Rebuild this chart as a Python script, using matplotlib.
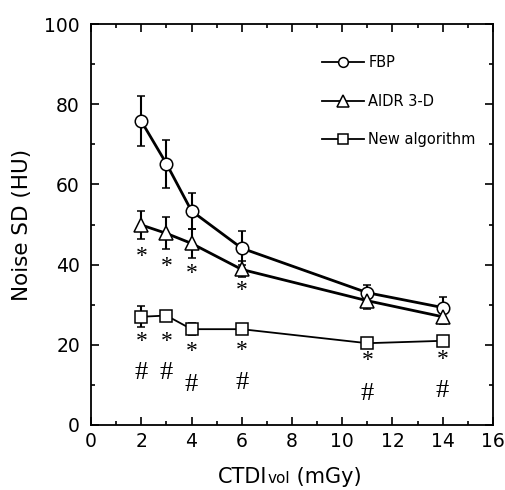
import numpy as np
import matplotlib.pyplot as plt
from matplotlib.ticker import MultipleLocator
from matplotlib.lines import Line2D

plt.rcParams['font.family'] = ['DejaVu Sans']

dose = [2, 3, 4, 6, 11, 14]

fbp = [75.8, 65.2, 53.4, 44.1, 33.0, 29.3]
fbp_err = [6.3, 6.0, 4.4, 4.3, 2.0, 2.6]

aidr = [49.9, 47.8, 45.3, 38.8, 31.0, 27.0]
aidr_err = [3.4, 4.0, 3.6, 2.0, 2.0, 1.8]

new_alg = [27.0, 27.3, 23.9, 23.9, 20.4, 21.0]
new_err = [2.6, 1.0, 1.5, 1.0, 1.0, 0.4]

labels = ['FBP', 'AIDR 3-D', 'New algorithm']

# significance marks (x, y) in data units
star_upper_x = [2, 3, 4, 6]
star_upper_y = [42.1, 39.5, 37.9, 33.5]
star_lower_x = [2, 3, 4, 6, 11, 14]
star_lower_y = [20.8, 20.8, 18.3, 18.5, 16.0, 16.4]
hash_x = [2, 3, 4, 6, 11, 14]
hash_y = [13.0, 13.0, 10.0, 10.4, 7.7, 8.5]

fig = plt.figure(figsize=(5.06, 4.90), dpi=100)
ax = fig.add_axes([0.180, 0.1327, 0.794, 0.818])

ekw = dict(ecolor='black', elinewidth=1.5, capsize=3, capthick=1.5)
mkw = dict(mfc='white', mec='black', mew=1.1)
ax.errorbar(dose, fbp, yerr=fbp_err, color='black', lw=2, marker='o', ms=9,
            zorder=3, **mkw, **ekw)
ax.errorbar(dose, aidr, yerr=aidr_err, color='black', lw=2, marker='^', ms=10,
            zorder=3, **mkw, **ekw)
ax.errorbar(dose, new_alg, yerr=new_err, color='black', lw=1.3, marker='s', ms=9,
            zorder=3, **mkw, **ekw)

for x, y in zip(star_upper_x, star_upper_y):
    ax.text(x, y, '*', family='Liberation Serif', fontsize=17, ha='center', va='center')
for x, y in zip(star_lower_x, star_lower_y):
    ax.text(x, y, '*', family='Liberation Serif', fontsize=17, ha='center', va='center')
for x, y in zip(hash_x, hash_y):
    ax.text(x, y, '#', family='Liberation Serif', fontsize=19, ha='center', va='center')

ax.set_xlim(0, 16)
ax.set_ylim(0, 100)
ax.xaxis.set_major_locator(MultipleLocator(2))
ax.xaxis.set_minor_locator(MultipleLocator(1))
ax.yaxis.set_major_locator(MultipleLocator(20))
ax.yaxis.set_minor_locator(MultipleLocator(10))
ax.tick_params(which='both', direction='in', top=True, right=True, width=1.2)
ax.tick_params(which='major', length=6, labelsize=13.5)
ax.tick_params(axis='x', which='major', pad=5)
ax.tick_params(axis='y', which='major', pad=8)
ax.tick_params(which='minor', length=3)
for s in ax.spines.values():
    s.set_linewidth(1.3)

ax.set_ylabel('Noise SD (HU)', fontsize=15.5, labelpad=9)

# x label: CTDI with "vol" smaller on the same baseline
t1 = fig.text(0.431, 0.0143, 'CTDI', fontsize=15, ha='left', va='baseline')
t2 = ax.annotate('vol', xy=(1, 0.0143), xycoords=(t1, 'figure fraction'),
                 fontsize=11, ha='left', va='baseline', annotation_clip=False)
t3 = ax.annotate(' (mGy)', xy=(1, 0.0143), xycoords=(t2, 'figure fraction'),
                 fontsize=15, ha='left', va='baseline', annotation_clip=False)

handles = [
    Line2D([], [], color='black', lw=1.3, marker='o', ms=7, **mkw),
    Line2D([], [], color='black', lw=1.3, marker='^', ms=8, **mkw),
    Line2D([], [], color='black', lw=1.3, marker='s', ms=7, **mkw),
]
ax.legend(handles, labels, loc='upper right', bbox_to_anchor=(0.99, 0.955),
          frameon=False, fontsize=10.5, labelspacing=1.6, handlelength=2.9,
          handletextpad=0.3)

fig.savefig('out.png', dpi=100)
